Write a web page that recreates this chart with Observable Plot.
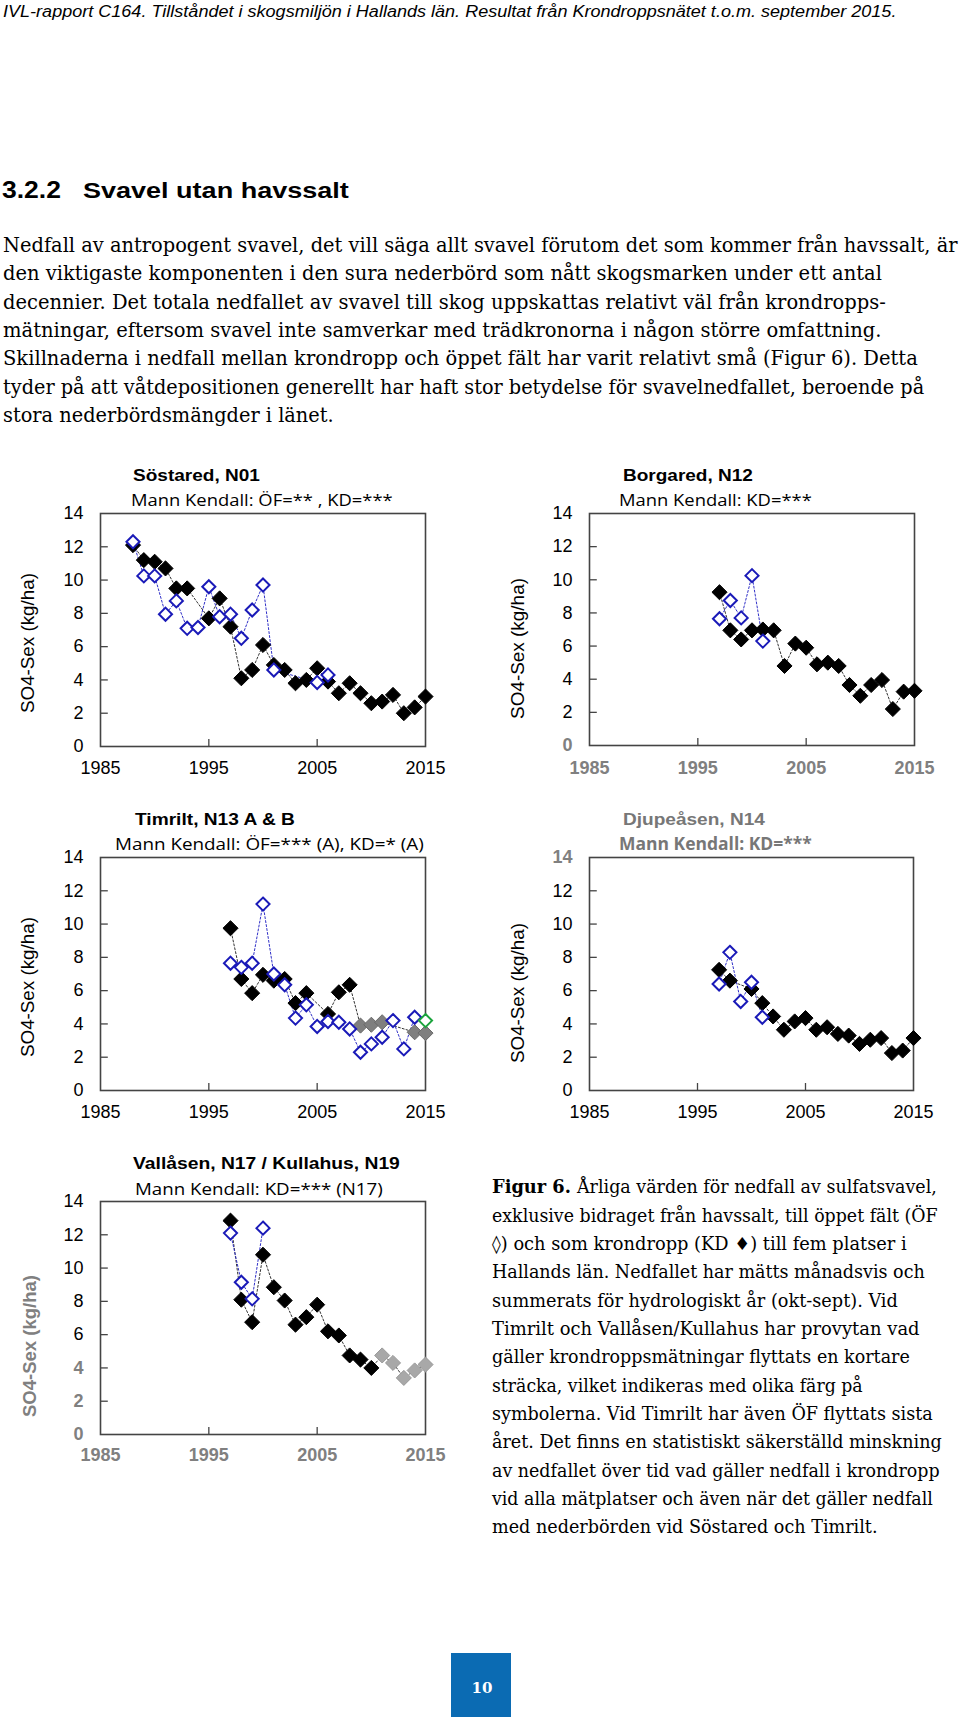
<!DOCTYPE html>
<html><head><meta charset="utf-8">
<script src="https://cdn.jsdelivr.net/npm/d3@7"></script>
<script src="https://cdn.jsdelivr.net/npm/@observablehq/plot@0.6"></script>
<style>
body{margin:0;background:#fff;}
#page{position:relative;width:960px;height:1725px;overflow:hidden;background:#fff;}
.chart{position:absolute;}
#overlay{position:absolute;left:0;top:0;z-index:2;pointer-events:none}
#pnum{position:absolute;left:451px;top:1653px;width:60px;height:64px;background:#0b6bb3;}
</style></head><body><div id="page"><div id="pnum"></div></div>
<script>
// ---------- DATA ----------
const sostaredYears = [1988,1989,1990,1991,1992,1993,1994,1995,1996,1997,1998,1999,2000,2001,2002,2003,2004,2005,2006,2007,2008,2009,2010,2011,2012,2013,2014,2015];
const sostaredKD = [12.1,11.2,11.1,10.7,9.5,9.5,null,7.7,8.9,7.2,4.1,4.6,6.1,4.9,4.6,3.8,4.0,4.7,3.9,3.2,3.8,3.2,2.6,2.7,3.1,2.0,2.35,3.0];
const sostaredOF = [12.3,10.25,10.25,7.95,8.75,7.1,7.15,9.6,7.8,7.95,6.5,8.2,9.7,4.6,null,null,null,3.85,4.3,null,null,null,null,null,null,null,null,null];

const lateYears = [1997,1998,1999,2000,2001,2002,2003,2004,2005,2006,2007,2008,2009,2010,2011,2012,2013,2014,2015];

const borgaredKD = [9.25,6.95,6.4,6.95,7.0,6.95,4.8,6.15,5.9,4.9,5.0,4.8,3.65,3.0,3.65,3.95,2.2,3.25,3.3];
const borgaredOF = [7.65,8.75,7.7,10.25,6.3,null,null,null,null,null,null,null,null,null,null,null,null,null,null];

const timriltKD_A = [9.75,6.7,5.85,6.95,6.6,6.7,5.25,5.85,null,4.6,5.9,6.35,null,null,null,null,null,null,null];
const timriltKD_B = [null,null,null,null,null,null,null,null,null,null,null,null,3.9,3.95,4.1,null,null,3.5,3.45];
const timriltOF_A = [7.65,7.4,7.65,11.2,7.0,6.35,4.35,5.15,3.85,4.15,4.1,3.7,2.3,2.8,3.2,4.2,2.5,4.4,null];
const timriltOF_B = [null,null,null,null,null,null,null,null,null,null,null,null,null,null,null,null,null,null,4.2];

const djupKD = [7.25,6.6,null,6.1,5.25,4.45,3.65,4.15,4.35,3.65,3.8,3.4,3.3,2.8,3.05,3.15,2.25,2.4,3.15];
const djupOF = [6.4,8.3,5.35,6.5,4.4,null,null,null,null,null,null,null,null,null,null,null,null,null,null];

const vallasenKD = [12.85,8.1,6.75,10.8,8.85,8.05,6.6,7.05,7.8,6.2,5.95,4.75,4.5,4.0,null,null,null,null,null];
const kullahusKD = [null,null,null,null,null,null,null,null,null,null,null,null,null,null,4.75,4.3,3.4,3.85,4.2];
const vallasenOF = [12.1,9.15,8.15,12.4,null,null,null,null,null,null,null,null,null,null,null,null,null,null,null];

const xTickLabels = [1985,1995,2005,2015];
const yTickLabels = [0,2,4,6,8,10,12,14];

const chartTitles = ["Söstared, N01","Borgared, N12","Timrilt, N13 A & B","Djupeåsen, N14","Vallåsen, N17 / Kullahus, N19"];
const chartSubtitles = ["Mann Kendall: ÖF=** , KD=***","Mann Kendall: KD=***","Mann Kendall: ÖF=*** (A), KD=* (A)","Mann Kendall: KD=***","Mann Kendall: KD=*** (N17)"];
const yAxisTitle = "SO4-Sex (kg/ha)";

const headerText = "IVL-rapport C164. Tillståndet i skogsmiljön i Hallands län. Resultat från Krondroppsnätet t.o.m. september 2015.";
const headingNum = "3.2.2";
const headingText = "Svavel utan havssalt";
const bodyLines = [
"Nedfall av antropogent svavel, det vill säga allt svavel förutom det som kommer från havssalt, är",
"den viktigaste komponenten i den sura nederbörd som nått skogsmarken under ett antal",
"decennier. Det totala nedfallet av svavel till skog uppskattas relativt väl från krondropps-",
"mätningar, eftersom svavel inte samverkar med trädkronorna i någon större omfattning.",
"Skillnaderna i nedfall mellan krondropp och öppet fält har varit relativt små (Figur 6). Detta",
"tyder på att våtdepositionen generellt har haft stor betydelse för svavelnedfallet, beroende på",
"stora nederbördsmängder i länet."
];
const captionBold = "Figur 6.";
const captionLines = [
"Årliga värden för nedfall av sulfatsvavel,",
"exklusive bidraget från havssalt, till öppet fält (ÖF",
"◊) och som krondropp (KD ♦) till fem platser i",
"Hallands län. Nedfallet har mätts månadsvis och",
"summerats för hydrologiskt år (okt-sept). Vid",
"Timrilt och Vallåsen/Kullahus har provytan vad",
"gäller krondroppsmätningar flyttats en kortare",
"sträcka, vilket indikeras med olika färg på",
"symbolerna. Vid Timrilt har även ÖF flyttats sista",
"året. Det finns en statistiskt säkerställd minskning",
"av nedfallet över tid vad gäller nedfall i krondropp",
"vid alla mätplatser och även när det gäller nedfall",
"med nederbörden vid Söstared och Timrilt."
];
const pageNumber = "10";

// ---------- LAYOUT / STYLE ----------
const BLUE = "#1a1ab8";
const AXIS = "#444";
const GRAYTXT = "#808080";

function recs(years, arr) {
  return arr ? years.map((y, i) => ({year: y, v: arr[i]})).filter(d => d.v != null) : [];
}
function merged(years, a, b) {
  return years.map((y, i) => ({year: y, v: a[i] != null ? a[i] : (b ? b[i] : null)})).filter(d => d.v != null);
}

function drawChart(cfg) {
  const fw = cfg.x1 - cfg.x0, fh = cfg.y1 - cfg.y0;
  const mL = 100, mR = 45, mT = 60, mB = 45;
  const blackY = yTickLabels.filter(t => !(cfg.grayY || []).includes(t));
  const grayY = yTickLabels.filter(t => (cfg.grayY || []).includes(t));
  const marks = [
    Plot.axisY({ticks: blackY, anchor: "left", tickSize: 0, tickPadding: 17, label: null, fill: "#000", fontSize: 18}),
    Plot.axisX({ticks: xTickLabels, anchor: "bottom", tickSize: 0, tickPadding: cfg.xPad || 15, label: null, tickFormat: "d",
                fill: cfg.grayX ? GRAYTXT : "#000", fontWeight: cfg.grayX ? "bold" : "normal", fontSize: 18}),
    Plot.ruleY([2,4,6,8,10,12], {y: d => d, x1: 1985, x2: 1985.72, stroke: AXIS, strokeWidth: 1.3}),
    Plot.ruleX([1995,2005], {x: d => d, y1: 0, y2: 0.42, stroke: AXIS, strokeWidth: 1.3}),
    Plot.frame({stroke: AXIS, strokeWidth: 1.6}),
    Plot.line(cfg.kdLine, {x: "year", y: "v", stroke: "#333", strokeWidth: 1, strokeDasharray: "2,2"}),
    Plot.line(cfg.ofLine, {x: "year", y: "v", stroke: "#3030c8", strokeWidth: 1, strokeDasharray: "2,2"})
  ];
  if (grayY.length) marks.push(Plot.axisY({ticks: grayY, anchor: "left", tickSize: 0, tickPadding: 17, label: null, fill: GRAYTXT, fontWeight: "bold", fontSize: 18}));
  for (const s of cfg.filled) marks.push(Plot.dot(s.data, {x: "year", y: "v", symbol: "diamond2", r: 6.8, fill: s.fill, stroke: s.stroke, strokeWidth: 1}));
  for (const s of cfg.open) marks.push(Plot.dot(s.data, {x: "year", y: "v", symbol: "diamond2", r: 5.9, fill: "#fff", stroke: s.stroke, strokeWidth: 2}));
  const p = Plot.plot({
    width: fw + mL + mR, height: fh + mT + mB,
    marginLeft: mL, marginRight: mR, marginTop: mT, marginBottom: mB,
    x: {domain: [1985, 2015]}, y: {domain: [0, 14]},
    style: {fontFamily: "'Liberation Sans', Arial, sans-serif", fontSize: "18px"},
    marks
  });
  p.classList.add("chart");
  p.style.left = (cfg.x0 - mL) + "px";
  p.style.top = (cfg.y0 - mT) + "px";
  document.getElementById("page").appendChild(p);
}

drawChart({x0: 100, x1: 425, y0: 513, y1: 746,
  kdLine: recs(sostaredYears, sostaredKD), ofLine: recs(sostaredYears, sostaredOF),
  filled: [{data: recs(sostaredYears, sostaredKD), fill: "#000", stroke: "#000"}],
  open: [{data: recs(sostaredYears, sostaredOF), stroke: BLUE}]});

drawChart({x0: 589, x1: 914, y0: 513, y1: 745, grayY: [0], grayX: true, xPad: 16,
  kdLine: recs(lateYears, borgaredKD), ofLine: recs(lateYears, borgaredOF),
  filled: [{data: recs(lateYears, borgaredKD), fill: "#000", stroke: "#000"}],
  open: [{data: recs(lateYears, borgaredOF), stroke: BLUE}]});

drawChart({x0: 100, x1: 425, y0: 857, y1: 1090,
  kdLine: merged(lateYears, timriltKD_A, timriltKD_B), ofLine: merged(lateYears, timriltOF_A, timriltOF_B),
  filled: [{data: recs(lateYears, timriltKD_A), fill: "#000", stroke: "#000"},
           {data: recs(lateYears, timriltKD_B), fill: "#7f7f7f", stroke: "#6a6a6a"}],
  open: [{data: recs(lateYears, timriltOF_A), stroke: BLUE},
         {data: recs(lateYears, timriltOF_B), stroke: "#1aa33c"}]});

drawChart({x0: 589, x1: 913, y0: 857, y1: 1090, grayY: [14],
  kdLine: recs(lateYears, djupKD), ofLine: recs(lateYears, djupOF),
  filled: [{data: recs(lateYears, djupKD), fill: "#000", stroke: "#000"}],
  open: [{data: recs(lateYears, djupOF), stroke: BLUE}]});

drawChart({x0: 100, x1: 425, y0: 1201, y1: 1434, grayY: [0, 2, 4], grayX: true, xPad: 14,
  kdLine: merged(lateYears, vallasenKD, kullahusKD), ofLine: recs(lateYears, vallasenOF),
  filled: [{data: recs(lateYears, vallasenKD), fill: "#000", stroke: "#000"},
           {data: recs(lateYears, kullahusKD), fill: "#a8a8a8", stroke: "#999"}],
  open: [{data: recs(lateYears, vallasenOF), stroke: BLUE}]});

// ---------- PAGE TEXT ----------
const svg = d3.select("#page").append("svg").attr("id", "overlay").attr("width", 960).attr("height", 1725);
function txt(str, x, y, w, o = {}) {
  const t = svg.append("text").attr("x", 0).attr("y", 0).text(str)
    .attr("font-family", o.family || "'Liberation Sans', Arial, sans-serif")
    .attr("font-size", o.size || 16)
    .attr("font-weight", o.weight || "normal")
    .attr("font-style", o.style || "normal")
    .attr("fill", o.fill || "#000");
  if (o.anchor) t.attr("text-anchor", o.anchor);
  let sx = 1;
  if (w) { const nat = t.node().getComputedTextLength(); if (nat > 0) sx = w / nat; }
  t.attr("transform", `translate(${x},${y})` + (o.rot ? ` rotate(${o.rot})` : "") + ` scale(${sx},1)`);
  return t;
}
txt(headerText, 3, 17, 894, {family: "'Liberation Sans Narrow', 'Liberation Sans', Arial, sans-serif", size: 16, style: "italic"});
txt(headingNum, 2, 198, 59, {size: 23, weight: "bold"});
txt(headingText, 83, 198, 266, {size: 23, weight: "bold"});
const bodyEnds = [958, 882, 886, 882, 918, 925, 334];
bodyLines.forEach((l, i) => txt(l, 3, 252 + 28.35 * i, bodyEnds[i] - 3, {family: "'DejaVu Serif', serif", size: 20.5}));
const capEnds = [937, 938, 907, 925, 898, 920, 910, 863, 933, 942, 940, 933, 878];
txt(captionBold, 492, 1193.3, 79, {family: "'DejaVu Serif', serif", size: 18, weight: "bold"});
captionLines.forEach((l, i) => {
  const x = i === 0 ? 577 : 492;
  txt(l, x, 1193.3 + 28.33 * i, capEnds[i] - x, {family: "'DejaVu Serif', serif", size: 18});
});
const titlePos = [[133, 481, 127], [623, 481, 130], [135, 825, 160], [623, 825, 142], [133, 1169, 267]];
const subPos = [[131, 506, 262], [619, 506, 193], [115, 850, 309], [619, 850, 193], [135, 1195, 248]];
chartTitles.forEach((s, i) => {
  const g = i === 3;
  txt(s, titlePos[i][0], titlePos[i][1], titlePos[i][2], {size: 17, weight: "bold", fill: g ? "#777" : "#000"});
});
chartSubtitles.forEach((s, i) => {
  const g = i === 3;
  txt(s, subPos[i][0], subPos[i][1], subPos[i][2], {family: "'Open Sans', sans-serif", size: 17, weight: g ? "bold" : "normal", fill: g ? "#777" : "#000"});
});
const yTitlePos = [[33.5, 713, 140, false], [523.5, 719, 141, false], [33.5, 1057, 140, false], [523.5, 1063, 140, false], [36, 1417, 142, true]];
yTitlePos.forEach(([bx, by, w, g]) => {
  txt(yAxisTitle, bx, by, w, {size: 18, fill: g ? GRAYTXT : "#000", weight: g ? "bold" : "normal", rot: -90});
});
txt(pageNumber, 482, 1693, 21, {family: "'DejaVu Serif', serif", size: 15, weight: "bold", fill: "#fff", anchor: "middle"});
</script></body></html>
